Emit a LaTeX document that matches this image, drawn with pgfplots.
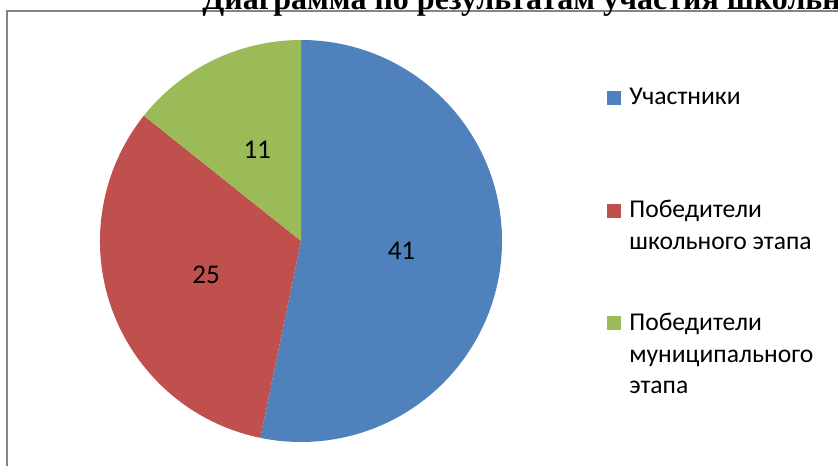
\documentclass[border=0pt]{standalone}
\usepackage{pgfplots}
\pgfplotsset{compat=1.18}
\usepackage{pgfplotstable}
\usepackage{fontspec}
\setmainfont{Carlito}
\newfontfamily\titlefont{Liberation Serif}
\definecolor{cblue}{HTML}{4F81BD}
\definecolor{cred}{HTML}{C0504D}
\definecolor{cgreen}{HTML}{9BBB59}
\definecolor{frame}{HTML}{858585}

\pgfplotstableread{
value
41
25
11
}\piedata

\begin{document}
\begin{tikzpicture}[x=0.5pt,y=0.5pt]
\clip (0,0) rectangle (838,466);
\fill[white] (0,0) rectangle (838,466);
\begin{axis}[at={(0,0)}, anchor=origin, x=0.5pt, y=0.5pt,
  xmin=0, xmax=838, ymin=0, ymax=466, hide axis, clip=false]
\pgfplotstablegetelem{0}{value}\of\piedata \edef\va{\pgfplotsretval}
\pgfplotstablegetelem{1}{value}\of\piedata \edef\vb{\pgfplotsretval}
\pgfplotstablegetelem{2}{value}\of\piedata \edef\vc{\pgfplotsretval}
\pgfmathsetmacro\total{\va+\vb+\vc}
\pgfmathsetmacro\aA{90-360*\va/\total}
\pgfmathsetmacro\aB{\aA-360*\vb/\total}
\pgfmathsetmacro\aC{\aB-360*\vc/\total}
\pgfmathsetmacro\mA{(90+\aA)/2}
\pgfmathsetmacro\mB{(\aA+\aB)/2}
\pgfmathsetmacro\mC{(\aB+\aC)/2}
% slices
\fill[cblue] (axis cs:301,225) -- ++(90:100.5pt) arc[start angle=90,end angle=\aA,radius=100.5pt] -- cycle;
\fill[cred] (axis cs:301,225) -- ++(\aA:100.5pt) arc[start angle=\aA,end angle=\aB,radius=100.5pt] -- cycle;
\fill[cgreen] (axis cs:301,225) -- ++(\aB:100.5pt) arc[start angle=\aB,end angle=\aC,radius=100.5pt] -- cycle;
% data labels
\path (axis cs:301,225) ++(\mA:50.5pt) node[font=\fontsize{13.5}{15}\selectfont, text=black] {\va};
\path (axis cs:301,225) ++(\mB:50.5pt) node[font=\fontsize{13.5}{15}\selectfont, text=black] {\vb};
\path (axis cs:301,225) ++(\mC:50.5pt) node[font=\fontsize{13.5}{15}\selectfont, text=black] {\vc};
% frame
\draw[frame, line width=1pt] (axis cs:6.5,0) -- (axis cs:6.5,455) -- (axis cs:845,455);
% title
\node[anchor=base west, inner sep=0pt, font=\titlefont\bfseries\fontsize{16}{18}\selectfont] at (axis cs:202,456) {Диаграмма по результатам участия школьников};
% legend
\fill[cblue] (axis cs:607,361) rectangle (axis cs:621,375);
\fill[cred] (axis cs:607,248) rectangle (axis cs:621,262);
\fill[cgreen] (axis cs:607,136) rectangle (axis cs:621,150);
\begin{scope}[every node/.style={anchor=base west, inner sep=0pt, font=\fontsize{12.8}{15}\selectfont, text=black}]
\node at (axis cs:629,361) {Участники};
\node at (axis cs:629,248) {Победители};
\node at (axis cs:629,216) {школьного этапа};
\node at (axis cs:629,136) {Победители};
\node at (axis cs:629,104) {муниципального};
\node at (axis cs:629,73) {этапа};
\end{scope}
\end{axis}
\end{tikzpicture}
\end{document}
